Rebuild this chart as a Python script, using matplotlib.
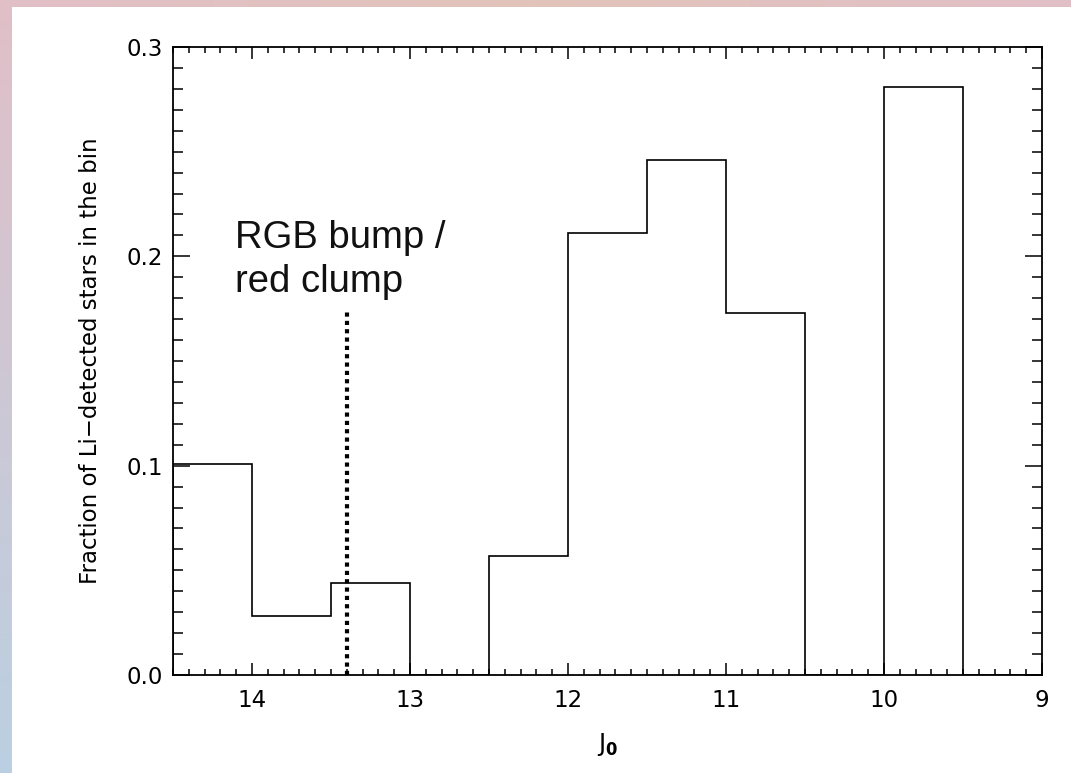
import numpy as np
import matplotlib
matplotlib.use("Agg")
import matplotlib.pyplot as plt
from matplotlib.ticker import MultipleLocator

# Data
bin_edges = [14.5, 14.0, 13.5, 13.0, 12.5, 12.0, 11.5, 11.0, 10.5, 10.0, 9.5, 9.0]
fractions = [0.101, 0.028, 0.044, 0.0, 0.057, 0.211, 0.246, 0.173, 0.0, 0.281, 0.0]
marker_x = 13.4
marker_top = 0.174
annotation = "RGB bump /\nred clump"
xlabel = r"J$_\mathbf{0}$"
ylabel = "Fraction of Li\u2212detected stars in the bin"
xticks = [14, 13, 12, 11, 10, 9]
yticks = [0.0, 0.1, 0.2, 0.3]

W, H, DPI = 1071, 773, 100
fig = plt.figure(figsize=(W / DPI, H / DPI), dpi=DPI, facecolor="white")

# gradient frame background
yy = np.linspace(0, 1, H)[:, None]
xx = np.linspace(0, 1, W)[None, :]
pink = np.array([225, 191, 199]) / 255.0
blue = np.array([186, 208, 226]) / 255.0
peach = np.array([226, 196, 186]) / 255.0
img = (1 - yy[..., None]) * pink + yy[..., None] * blue
img = np.broadcast_to(img, (H, W, 3)).copy()
t = np.abs(xx - 0.5) * 2
top = (1 - t[..., None]) * peach + t[..., None] * pink
img[:7, :, :] = np.broadcast_to(top, (7, W, 3))
img[7:, 12:, :] = 1.0
fig.figimage(img, 0, 0, origin="upper", zorder=-10)

ax = fig.add_axes([173 / W, 1 - 675 / H, (1042 - 173) / W, (675 - 47) / H])
ax.patch.set_alpha(0)

ax.stairs(fractions[::-1], bin_edges[::-1], baseline=0, color="black", lw=1.2)
ax.plot([marker_x, marker_x], [0, marker_top], color="black", lw=3,
        linestyle=(0, (1, 1)))

ax.text(14.108, 0.2175, annotation, fontsize=27.5, family="Liberation Sans",
        va="top", ha="left", linespacing=1.3, color="#111111")

ax.set_xlim(14.5, 9)
ax.set_ylim(0, 0.3)
ax.set_xticks(xticks)
ax.set_xticklabels([str(v) for v in xticks])
ax.set_yticks(yticks)
ax.set_yticklabels([f"{v:.1f}" for v in yticks])
ax.xaxis.set_minor_locator(MultipleLocator(0.1))
ax.yaxis.set_minor_locator(MultipleLocator(0.01))
ax.tick_params(axis="x", which="major", direction="in", top=True, length=8.6,
               width=1.1, pad=10, labelsize=16.5)
ax.tick_params(axis="x", which="minor", direction="in", top=True, length=4.3,
               width=1.1)
ax.tick_params(axis="y", which="major", direction="in", right=True, length=12,
               width=1.1, pad=7, labelsize=16.5)
ax.tick_params(axis="y", which="minor", direction="in", right=True, length=7,
               width=1.1)
for s in ax.spines.values():
    s.set_linewidth(1.3)

ax.set_ylabel(ylabel, fontsize=16.5, labelpad=18)
ax.set_xlabel(xlabel, fontsize=17, labelpad=14)

fig.savefig("out.png", dpi=DPI)
